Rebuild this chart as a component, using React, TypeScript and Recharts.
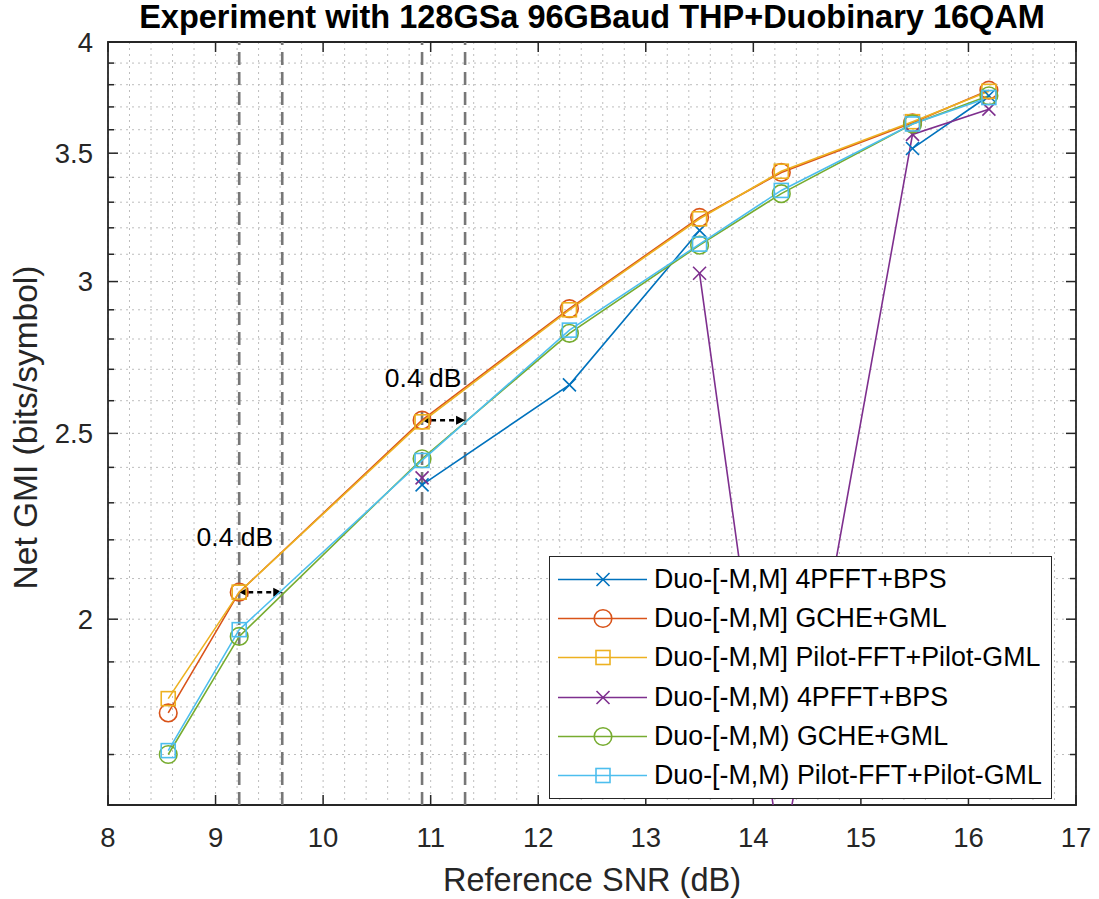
import React from "react";
import {
  LineChart,
  Line,
  XAxis,
  YAxis,
  CartesianGrid,
  ReferenceLine,
  ReferenceArea,
  ReferenceDot,
  Legend,
} from "recharts";

// reference SNR (dB) of each measurement
const snr = [8.56, 9.22, 10.92, 12.29, 13.5, 14.26, 15.48, 16.19];

// net GMI (bits/symbol), null where the curve has no point
const closed4pfftBps = [null, null, 2.35, 2.65, 3.19, null, 3.52, 3.75];
const closedGcheGml = [1.787, 2.066, 2.54, 2.904, 3.24, 3.42, 3.63, 3.775];
const closedPilot = [1.818, 2.066, 2.535, 2.9, 3.235, 3.425, 3.635, 3.77];
const open4pfftBps = [null, null, 2.37, null, 3.03, 1.49, 3.58, 3.69];
const openGcheGml = [1.7, 1.959, 2.425, 2.819, 3.134, 3.334, 3.625, 3.75];
const openPilot = [1.708, 1.975, 2.42, 2.83, 3.138, 3.347, 3.625, 3.742];

const seriesNames = [
  "Duo-[-M,M] 4PFFT+BPS",
  "Duo-[-M,M] GCHE+GML",
  "Duo-[-M,M] Pilot-FFT+Pilot-GML",
  "Duo-[-M,M) 4PFFT+BPS",
  "Duo-[-M,M) GCHE+GML",
  "Duo-[-M,M) Pilot-FFT+Pilot-GML",
];

const xMajorTicks = [8, 9, 10, 11, 12, 13, 14, 15, 16, 17];
const yTicks = [
  1.6, 1.7, 1.8, 1.9, 2, 2.1, 2.2, 2.3, 2.4, 2.5, 2.6, 2.7, 2.8, 2.9, 3, 3.1,
  3.2, 3.3, 3.4, 3.5, 3.6, 3.7, 3.8, 3.9, 4,
];
const yMajorTicks = [2, 2.5, 3, 3.5, 4];

// dashed guide lines and the 0.4 dB gap arrows
const guideLines = [9.22, 9.62, 10.92, 11.32];
const gapArrows = [
  { from: 9.22, to: 9.62, y: 2.066 },
  { from: 10.92, to: 11.32, y: 2.54 },
];
const gapLabels = [
  { x: 9.18, y: 2.208, text: "0.4 dB" },
  { x: 10.93, y: 2.671, text: "0.4 dB" },
];

const W = 1099;
const H = 899;
const PLOT_TOP = 42;
const PLOT_BOTTOM = 805;
const PLOT_LEFT = 108;
const PLOT_RIGHT = 1076;
const FONT = "'Liberation Sans', Arial, Helvetica, sans-serif";
const AXIS = "#262626";

const series = [
  { key: "s0", values: closed4pfftBps, color: "#0072BD", shape: "x" },
  { key: "s1", values: closedGcheGml, color: "#D95319", shape: "o" },
  { key: "s2", values: closedPilot, color: "#EDB120", shape: "sq" },
  { key: "s3", values: open4pfftBps, color: "#7E2F8E", shape: "x" },
  { key: "s4", values: openGcheGml, color: "#77AC30", shape: "o" },
  { key: "s5", values: openPilot, color: "#4DBEEE", shape: "sq" },
].map((s, i) => ({ ...s, name: seriesNames[i] }));

const data = snr.map((x, i) => {
  const row: Record<string, number | null> = { snr: x };
  series.forEach((s) => {
    row[s.key] = s.values[i];
  });
  return row;
});

const xGridTicks = xMajorTicks.flatMap((t, i) =>
  i < xMajorTicks.length - 1 ? [t, t + 0.2, t + 0.4, t + 0.6, t + 0.8] : [t]
);

const isIn = (list: number[], v: number) => list.some((t) => Math.abs(t - v) < 1e-6);

const renderMarker = (shape: string, color: string, cx: number, cy: number, key?: string) => {
  if (shape === "x") {
    const s = 6.5;
    return (
      <g key={key}>
        <line x1={cx - s} y1={cy - s} x2={cx + s} y2={cy + s} stroke={color} strokeWidth={1.6} />
        <line x1={cx - s} y1={cy + s} x2={cx + s} y2={cy - s} stroke={color} strokeWidth={1.6} />
      </g>
    );
  }
  if (shape === "o") {
    return <circle key={key} cx={cx} cy={cy} r={8.8} fill="none" stroke={color} strokeWidth={1.6} />;
  }
  return (
    <rect key={key} x={cx - 7} y={cy - 7} width={14} height={14} fill="none" stroke={color} strokeWidth={1.6} />
  );
};

const XTick = (props: any) => {
  const { x, payload } = props;
  const v = payload.value;
  if (!isIn(xMajorTicks, v)) return <g />;
  return (
    <g>
      <line x1={x} x2={x} y1={PLOT_BOTTOM} y2={PLOT_BOTTOM - 10} stroke={AXIS} strokeWidth={1.5} />
      <line x1={x} x2={x} y1={PLOT_TOP} y2={PLOT_TOP + 10} stroke={AXIS} strokeWidth={1.5} />
      <text x={x} y={PLOT_BOTTOM + 32} textAnchor="middle" dominantBaseline="central" fontSize={27.5} fill={AXIS} fontFamily={FONT}>
        {v}
      </text>
    </g>
  );
};

const YTick = (props: any) => {
  const { y, payload } = props;
  const v = payload.value;
  const major = isIn(yMajorTicks, v);
  const len = major ? 10 : 6;
  return (
    <g>
      <line x1={PLOT_LEFT} x2={PLOT_LEFT + len} y1={y} y2={y} stroke={AXIS} strokeWidth={1.5} />
      <line x1={PLOT_RIGHT} x2={PLOT_RIGHT - len} y1={y} y2={y} stroke={AXIS} strokeWidth={1.5} />
      {major && (
        <text x={PLOT_LEFT - 15} y={y} textAnchor="end" dominantBaseline="central" fontSize={27.5} fill={AXIS} fontFamily={FONT}>
          {v}
        </text>
      )}
    </g>
  );
};

const GapArrow = (p: any) => {
  const { x1, y1, x2 } = p;
  const head = 9;
  const half = 4.5;
  return (
    <g>
      <line x1={x1 + head} x2={x2 - head} y1={y1} y2={y1} stroke="#000" strokeWidth={2.5} strokeDasharray="5 4" />
      <polygon points={`${x1},${y1} ${x1 + head},${y1 - half} ${x1 + head},${y1 + half}`} fill="#000" />
      <polygon points={`${x2},${y1} ${x2 - head},${y1 - half} ${x2 - head},${y1 + half}`} fill="#000" />
    </g>
  );
};

const LegendBox = () => (
  <div
    style={{
      width: 503,
      height: 243,
      boxSizing: "border-box",
      border: `1.5px solid ${AXIS}`,
      background: "#fff",
      paddingTop: 3,
      fontFamily: FONT,
    }}
  >
    {series.map((s) => (
      <div key={s.key} style={{ display: "flex", alignItems: "center", height: 39.2 }}>
        <svg width={100} height={39} style={{ flex: "none" }}>
          <line x1={8} x2={97} y1={19.5} y2={19.5} stroke={s.color} strokeWidth={1.6} />
          {renderMarker(s.shape, s.color, 53, 19.5)}
        </svg>
        <span style={{ marginLeft: 4, fontSize: 26.8, color: "#000", whiteSpace: "nowrap", lineHeight: "39px" }}>
          {s.name}
        </span>
      </div>
    ))}
  </div>
);

export default function App() {
  const midX = (PLOT_LEFT + PLOT_RIGHT) / 2;
  const midY = (PLOT_TOP + PLOT_BOTTOM) / 2;
  return (
    <div style={{ position: "absolute", left: 0, top: 0, width: W, height: H, background: "#fff" }}>
      <LineChart
        width={W}
        height={H}
        data={data}
        margin={{ top: 0, right: W - PLOT_RIGHT, bottom: 0, left: 0 }}
        style={{ fontFamily: FONT }}
      >
        <CartesianGrid stroke="#bdbdbd" strokeDasharray="2 4" strokeWidth={1} />
        <XAxis
          xAxisId="top"
          orientation="top"
          type="number"
          dataKey="snr"
          domain={[8, 17]}
          height={PLOT_TOP}
          ticks={[]}
          tick={false}
          tickLine={false}
          axisLine={false}
          label={{
            content: () => (
              <text x={midX} y={28} textAnchor="middle" fontSize={32.5} fontWeight="bold" fill="#000" fontFamily={FONT}>
                Experiment with 128GSa 96GBaud THP+Duobinary 16QAM
              </text>
            ),
          }}
        />
        <XAxis
          type="number"
          dataKey="snr"
          domain={[8, 17]}
          ticks={xGridTicks}
          interval={0}
          height={H - PLOT_BOTTOM}
          tickSize={0}
          tickMargin={0}
          tickLine={false}
          axisLine={false}
          tick={XTick}
          label={{
            content: () => (
              <text x={midX} y={891} textAnchor="middle" fontSize={32.5} fill={AXIS} fontFamily={FONT}>
                Reference SNR (dB)
              </text>
            ),
          }}
        />
        <YAxis
          type="number"
          scale="log"
          domain={[1.6, 4]}
          allowDataOverflow
          ticks={yTicks}
          interval={0}
          width={PLOT_LEFT}
          tickSize={0}
          tickMargin={0}
          tickLine={false}
          axisLine={false}
          tick={YTick}
          label={{
            content: () => (
              <text
                transform={`translate(37, ${midY + 4}) rotate(-90)`}
                textAnchor="middle"
                fontSize={33.5}
                fill={AXIS}
                fontFamily={FONT}
              >
                Net GMI (bits/symbol)
              </text>
            ),
          }}
        />
        <ReferenceArea x1={8} x2={17} y1={1.6} y2={4} fill="none" stroke={AXIS} strokeWidth={1.8} />
        {guideLines.map((g) => (
          <ReferenceLine key={g} x={g} stroke="#777777" strokeWidth={2.6} strokeDasharray="13 7" />
        ))}
        {gapArrows.map((a) => (
          <ReferenceLine
            key={a.from}
            segment={[
              { x: a.from, y: a.y },
              { x: a.to, y: a.y },
            ]}
            shape={GapArrow}
          />
        ))}
        {gapLabels.map((l) => (
          <ReferenceDot
            key={l.x}
            x={l.x}
            y={l.y}
            r={0}
            shape={(p: any) => (
              <text x={p.cx} y={p.cy} textAnchor="middle" dominantBaseline="central" fontSize={26.5} fill="#000" fontFamily={FONT}>
                {l.text}
              </text>
            )}
          />
        ))}
        {series.map((s) => (
          <Line
            key={s.key}
            type="linear"
            dataKey={s.key}
            name={s.name}
            stroke={s.color}
            strokeWidth={1.6}
            isAnimationActive={false}
            activeDot={false}
            dot={(p: any) =>
              p.value == null || p.cy == null ? (
                <g key={`${s.key}-${p.index}`} />
              ) : (
                renderMarker(s.shape, s.color, p.cx, p.cy, `${s.key}-${p.index}`)
              )
            }
          />
        ))}
        <Legend
          layout="vertical"
          align="center"
          verticalAlign="middle"
          wrapperStyle={{ left: 549, top: 556, width: 503, height: 243 }}
          content={LegendBox}
        />
      </LineChart>
    </div>
  );
}
